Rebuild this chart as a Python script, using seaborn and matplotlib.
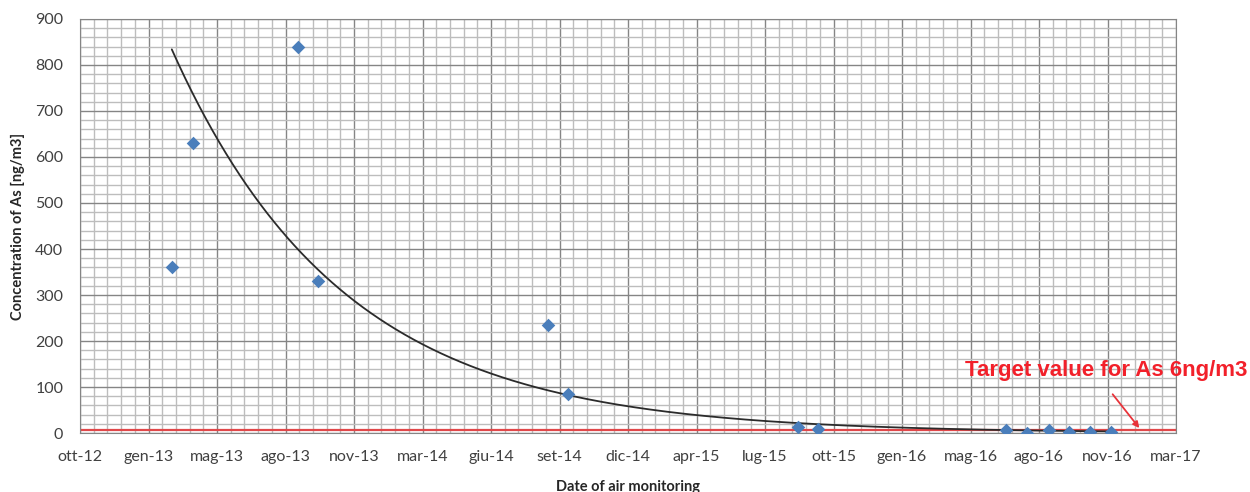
import matplotlib
matplotlib.use('Agg')
import matplotlib.pyplot as plt
import matplotlib.dates as mdates
from matplotlib.ticker import MultipleLocator
import seaborn as sns
import pandas as pd
import numpy as np

# Monitoring campaign - arsenic in air
sample_dates = ["2013-03-01", "2013-04-01", "2013-09-01", "2013-10-01",
                "2014-09-01", "2014-10-01", "2015-09-01", "2015-10-01",
                "2016-07-01", "2016-08-01", "2016-09-01", "2016-10-01",
                "2016-11-01", "2016-12-01"]
as_conc = [360, 630, 840, 330, 235, 85, 12, 9, 7, 1, 6, 2, 2, 2]

# Excel date axis: first tick and major unit (days)
axis_start = "2012-10-18"
major_days = 100
x_tick_labels = ["ott-12", "gen-13", "mag-13", "ago-13", "nov-13", "mar-14",
                 "giu-14", "set-14", "dic-14", "apr-15", "lug-15", "ott-15",
                 "gen-16", "mag-16", "ago-16", "nov-16", "mar-17"]

# exponential trendline shown on the chart: y = a * exp(-k * days since first sample)
trend_a = 834
trend_k = 0.0040

target_value = 6
target_label = "Target value for As 6ng/m3"

df = pd.DataFrame({"date": pd.to_datetime(sample_dates), "conc": as_conc})

start = pd.Timestamp(axis_start)
tick_dates = [start + pd.Timedelta(days=major_days * i) for i in range(len(x_tick_labels))]

trend_dates = pd.date_range(df["date"].min(), df["date"].max(), freq="D")
trend_days = (trend_dates - df["date"].min()).days.values
trend = pd.DataFrame({"date": trend_dates, "conc": trend_a * np.exp(-trend_k * trend_days)})

sns.set_style("white")
plt.rcParams['font.family'] = ['Lato', 'DejaVu Sans']

fig = plt.figure(figsize=(12.5, 4.92), dpi=100)
ax = fig.add_axes([0.064, 0.1199, 0.8768, 0.8415])

# gridlines
ax.set_axisbelow(True)
ax.set_xticks(tick_dates)
minor_dates = [start + pd.Timedelta(days=20 * i) for i in range(len(x_tick_labels) * 5 - 4)]
ax.set_xticks(minor_dates, minor=True)
ax.yaxis.set_major_locator(MultipleLocator(100))
ax.yaxis.set_minor_locator(MultipleLocator(20))
ax.grid(which='major', color='#858585', linewidth=1.0)
ax.grid(which='minor', color='#bdbdbd', linewidth=1.0)

ax.axhline(target_value, color='#e0484a', linewidth=1.6, zorder=2)

sns.lineplot(data=trend, x="date", y="conc", ax=ax, color='#2b2b2b', linewidth=1.3, zorder=3)
sns.scatterplot(data=df, x="date", y="conc", ax=ax, marker='D', s=48, color='#4a7ebb',
                linewidth=0, zorder=4)

ax.set_xlim(tick_dates[0], tick_dates[-1])
ax.set_ylim(0, 900)
ax.set_xticklabels(x_tick_labels)

ax.tick_params(axis='both', which='major', direction='out', length=4, width=1,
               color='#858585', labelsize=11.5, labelcolor='#404040', pad=8)
ax.tick_params(axis='both', which='minor', length=0)
for s in ax.spines.values():
    s.set_color('#858585')

ax.set_xlabel("Date of air monitoring", fontsize=10.5, fontweight='bold', color='#262626', labelpad=12)
ax.set_ylabel("Concentration of As [ng/m3]", fontsize=10.5, fontweight='bold', color='#262626', labelpad=7)

ax.annotate("", xy=(pd.Timestamp("2017-01-14"), target_value),
            xytext=(pd.Timestamp("2016-12-01"), 89),
            arrowprops=dict(arrowstyle='-|>', color='#e8333a', lw=1.3, mutation_scale=9),
            annotation_clip=False)
ax.text(pd.Timestamp("2016-05-02"), 136, target_label, color='#f2202a', fontsize=16,
        fontweight='bold', family=['Liberation Sans', 'DejaVu Sans'], va='center', ha='left',
        clip_on=False)

fig.savefig("out.png", dpi=100)
